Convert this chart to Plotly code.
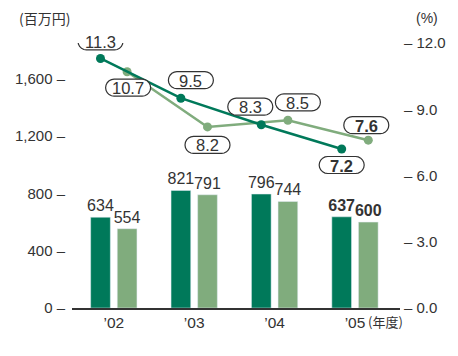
import math
import plotly.graph_objects as go

years = ["’02", "’03", "’04", "’05"]
sales_a = [634, 821, 796, 637]
sales_b = [554, 791, 744, 600]
ratio_a = [11.3, 9.5, 8.3, 7.2]
ratio_b = [10.7, 8.2, 8.5, 7.6]
left_ticks = [0, 400, 800, 1200, 1600]
right_ticks = [0, 3, 6, 9, 12]

DARK = "#00795a"
LIGHT = "#80ac7d"
TXT = "#333333"
FONT = "Liberation Sans, Arial, sans-serif"
JP = "Noto Sans CJK JP"

W, H = 458, 356
L, R, T, B = 72, 53, 43, 48
PW, PH = W - L - R, H - T - B

def px2paper(px, py):
    return (px - L) / PW, (H - B - py) / PH

xs = list(range(len(years)))
bw = 0.245
off_a, off_b = -0.288, 0.043
xa = [i + off_a + bw / 2 for i in xs]
xb = [i + off_b + bw / 2 for i in xs]

def lbl(v, last):
    return f"<b>{v}</b>" if last else f"{v}"

n = len(years)
fig = go.Figure()
fig.add_bar(x=xs, y=sales_a, width=bw, offset=off_a, marker_color=DARK,
            text=[lbl(v, i == n - 1) for i, v in enumerate(sales_a)],
            textposition="outside", constraintext="none", cliponaxis=False,
            textfont=dict(size=16, color=TXT, family=FONT))
fig.add_bar(x=xs, y=sales_b, width=bw, offset=off_b, marker_color=LIGHT,
            text=[lbl(v, i == n - 1) for i, v in enumerate(sales_b)],
            textposition="outside", constraintext="none", cliponaxis=False,
            textfont=dict(size=16, color=TXT, family=FONT))
fig.add_scatter(x=xb, y=ratio_b, yaxis="y2", mode="lines+markers",
                line=dict(color=LIGHT, width=2.5), marker=dict(size=9, color=LIGHT),
                cliponaxis=False)
fig.add_scatter(x=xa, y=ratio_a, yaxis="y2", mode="lines+markers",
                line=dict(color=DARK, width=2.5), marker=dict(size=9, color=DARK),
                cliponaxis=False)

# label offsets (pixels, screen y down) relative to points
offs_a = [(0, -17), (10, -18), (-11, -18), (0, 16)]
offs_b = [(1, 16), (0, 18), (10, -18), (-2, -15)]
bw_px, bh_px = 45, 17
rr = bh_px / 2

def pill(cx, cy):
    pts = []
    steps = 10
    for k in range(steps + 1):
        a = -math.pi / 2 + math.pi * k / steps
        pts.append((cx + bw_px / 2 - rr + rr * math.cos(a), cy + rr * math.sin(a)))
    for k in range(steps + 1):
        a = math.pi / 2 + math.pi * k / steps
        pts.append((cx - bw_px / 2 + rr + rr * math.cos(a), cy + rr * math.sin(a)))
    return "M" + " L".join(f"{x:.2f},{y:.2f}" for x, y in pts) + " Z"

shapes, annots = [], []
for xv, yv, offs in ((xa, ratio_a, offs_a), (xb, ratio_b, offs_b)):
    for i, (x, y) in enumerate(zip(xv, yv)):
        dx, dy = offs[i]
        shapes.append(dict(type="path", xref="x", yref="y2", xsizemode="pixel",
                           ysizemode="pixel", xanchor=x, yanchor=y,
                           path=pill(dx, -dy), fillcolor="white",
                           line=dict(color=TXT, width=1.2), layer="above"))
        txt = f"{y:.1f}"
        if i == n - 1:
            txt = f"<b>{txt}</b>"
        annots.append(dict(x=x, y=y, xref="x", yref="y2", text=txt, showarrow=False,
                           xshift=dx, yshift=-dy - 0.5, xanchor="center", yanchor="middle",
                           font=dict(size=16.5, color=TXT, family=FONT)))

for text, (ppx, ppy), fam, fs in (("(百万円)", (44, 18), JP, 14), ("(%)", (432, 18), FONT, 14),
                                  ("(年度)", (390, 321), JP, 13)):
    px, py = px2paper(ppx, ppy)
    annots.append(dict(x=px, y=py, xref="paper", yref="paper", text=text, showarrow=False,
                       xanchor="center", yanchor="middle",
                       font=dict(size=fs, color=TXT, family=fam)))

fig.update_layout(
    width=W, height=H, margin=dict(l=L, r=R, t=T, b=B, pad=0),
    paper_bgcolor="white", plot_bgcolor="white", showlegend=False,
    font=dict(family=FONT, color=TXT, size=15),
    xaxis=dict(range=[-0.52, 3.56], tickvals=xs, ticktext=years, showgrid=False,
               zeroline=False, showline=True, linecolor=TXT, linewidth=1.5,
               ticks="", tickfont=dict(size=15.5, color=TXT, family=FONT)),
    yaxis=dict(range=[0, 1851], tickvals=left_ticks,
               ticktext=[f"{v:,} –" for v in left_ticks],
               showgrid=False, zeroline=False, showline=False, ticks="",
               ticklabelstandoff=6, tickfont=dict(size=15, color=TXT, family=FONT)),
    yaxis2=dict(range=[0, 12.0], overlaying="y", side="right", tickvals=right_ticks,
                ticktext=[f"– {v:.1f}" for v in right_ticks],
                showgrid=False, zeroline=False, showline=False, ticks="",
                ticklabelstandoff=3, tickfont=dict(size=15, color=TXT, family=FONT)),
    shapes=shapes, annotations=annots,
)

fig.write_html("out.html")
